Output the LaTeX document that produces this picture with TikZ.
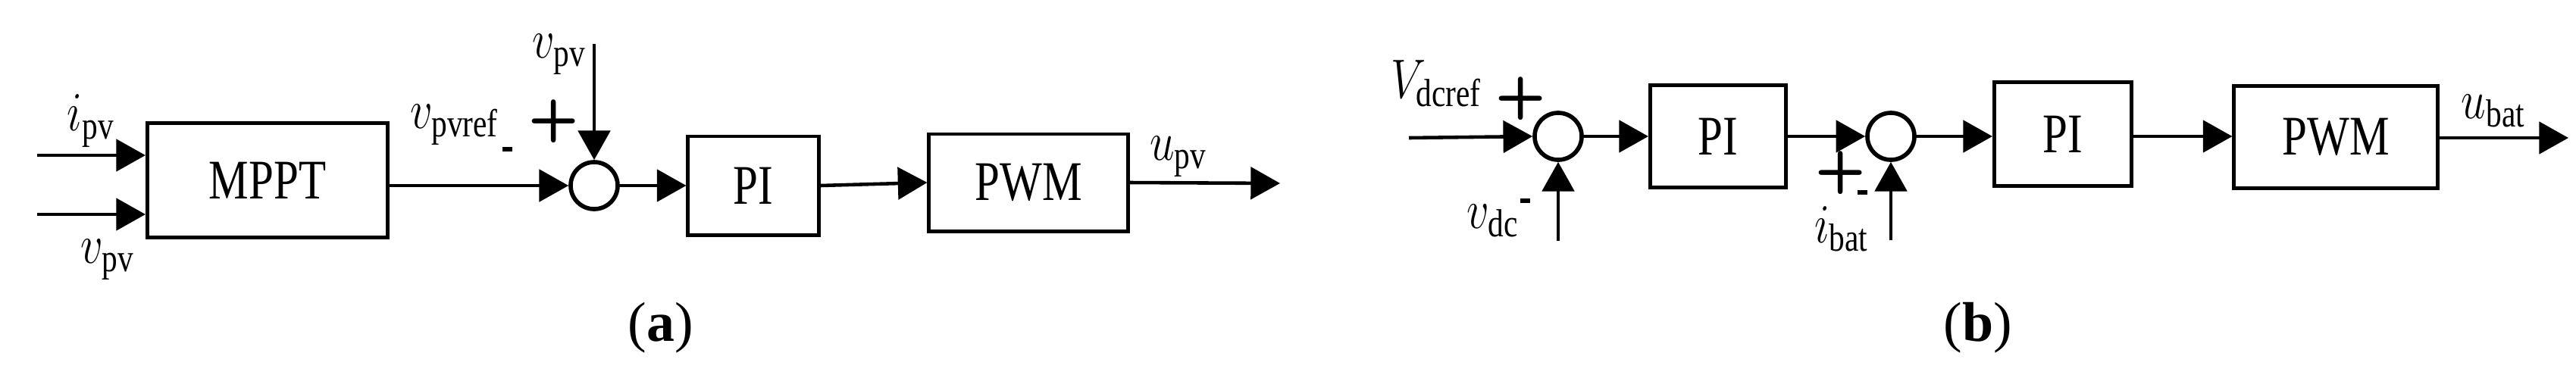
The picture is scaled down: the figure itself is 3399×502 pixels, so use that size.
\documentclass[tikz,border=0pt]{standalone}
\usepackage{fontspec}
\setmainfont{Liberation Serif}
\usetikzlibrary{arrows.meta}
\begin{document}
\begin{tikzpicture}[x=0.01cm,y=-0.01cm,
  line width=1.3pt,
  arr/.style={-{Triangle[length=11pt,width=12pt]}},
  blk/.style={draw,line width=1.4pt,minimum width=#1,inner sep=0pt},
  sum/.style={draw,circle,line width=1.6pt,minimum size=0.62cm,inner sep=0pt},
  lbl/.style={inner sep=0pt,font=\fontsize{21}{24}\selectfont},
  sg/.style={inner sep=0pt,font=\fontsize{22}{24}\sffamily\bfseries}]
\useasboundingbox (0,0) rectangle (3399,502);
% ---- (a)
\node[draw,line width=1.4pt,minimum width=3.17cm,minimum height=1.51cm,lbl] (mppt) at (353,238) {\scalebox{0.8}[1]{MPPT}};
\node[draw,line width=1.4pt,minimum width=1.72cm,minimum height=1.30cm,lbl] (pia) at (994,245) {\scalebox{0.8}[1]{PI}};
\node[draw,line width=1.4pt,minimum width=2.62cm,minimum height=1.28cm,lbl] (pwma) at (1357,241) {\scalebox{0.8}[1]{PWM}};
\node[sum] (sa) at (784,245) {};
\coordinate (i1) at (49,205);
\coordinate (i2) at (49,283);
\coordinate (ta) at (784,58);
\coordinate (oa) at (1689,242);
\draw[arr] (i1) -- (i1 -| mppt.west);
\draw[arr] (i2) -- (i2 -| mppt.west);
\draw[arr] (mppt.east |- sa) -- (sa.west);
\draw[arr] (ta) -- (sa.north);
\draw[arr] (sa.east) -- (pia.west);
\draw[arr] (pia.east) -- (pwma.west);
\draw[arr] (pwma.east) -- (oa);
\node[lbl] (l1) at (120,160) {\scalebox{0.8}[1]{$i_{\mathrm{pv}}$}};
\node[lbl] (l2) at (142,343) {\scalebox{0.8}[1]{$v_{\mathrm{pv}}$}};
\node[lbl] (l3) at (600,165) {\scalebox{0.8}[1]{$v_{\mathrm{pvref}}$}};
\node[lbl] (l4) at (738,72) {\scalebox{0.8}[1]{$v_{\mathrm{pv}}$}};
\node[lbl] (l5) at (1555,207) {\scalebox{0.8}[1]{$u_{\mathrm{pv}}$}};
\node[sg] (p1) at (731,160) {+};
\node[sg] (m1) at (669,197) {\rule{0.13cm}{1.6pt}};
\node[lbl] (ca) at (872,433) {(\textbf{a})};
% ---- (b)
\node[sum] (s1) at (2056,180) {};
\node[sum] (s2) at (2495,180) {};
\node[draw,line width=1.4pt,minimum width=1.79cm,minimum height=1.35cm,lbl] (pi1) at (2267,180) {\scalebox{0.8}[1]{PI}};
\node[draw,line width=1.4pt,minimum width=1.81cm,minimum height=1.37cm,lbl] (pi2) at (2722,177) {\scalebox{0.8}[1]{PI}};
\node[draw,line width=1.4pt,minimum width=2.68cm,minimum height=1.35cm,lbl] (pwmb) at (3082,181) {\scalebox{0.8}[1]{PWM}};
\coordinate (ib) at (1859,182);
\coordinate (b1) at (2056,318);
\coordinate (b2) at (2495,317);
\coordinate (ob) at (3389,182);
\draw[arr] (ib) -- (s1.west);
\draw[arr] (b1) -- (s1.south);
\draw[arr] (s1.east) -- (pi1.west);
\draw[arr] (pi1.east |- s2) -- (s2.west);
\draw[arr] (b2) -- (s2.south);
\draw[arr] (s2.east) -- (pi2.west |- s2);
\draw[arr] (pi2.east |- s2) -- (pwmb.west |- s2);
\draw[arr] (pwmb.east |- ob) -- (ob);
\node[lbl] (l6) at (1895,110) {\scalebox{0.8}[1]{$V_{\mathrm{dcref}}$}};
\node[lbl] (l7) at (1970,292) {\scalebox{0.8}[1]{$v_{\mathrm{dc}}$}};
\node[lbl] (l8) at (2430,302) {\scalebox{0.8}[1]{$i_{\mathrm{bat}}$}};
\node[lbl] (l9) at (3290,147) {\scalebox{0.8}[1]{$u_{\mathrm{bat}}$}};
\node[sg] (p2) at (2007,130) {+};
\node[sg] (m2) at (2012,265) {\rule{0.13cm}{1.6pt}};
\node[sg] (p3) at (2429,228) {+};
\node[sg] (m3) at (2457,254) {\rule{0.13cm}{1.6pt}};
\node[lbl] (cb) at (2610,433) {(\textbf{b})};
\end{tikzpicture}
\end{document}
